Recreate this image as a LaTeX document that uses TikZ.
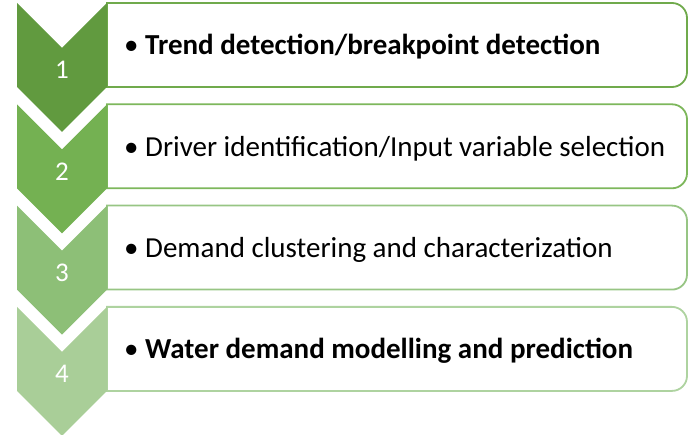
\documentclass[tikz,border=0pt]{standalone}
\usepackage{fontspec}
\setmainfont{Carlito}
\definecolor{cA}{HTML}{619A3F}
\definecolor{cB}{HTML}{74B152}
\definecolor{cC}{HTML}{8DBF77}
\definecolor{cD}{HTML}{A9CE98}
\definecolor{bA}{HTML}{70AA4C}
\definecolor{bB}{HTML}{7DB75B}
\definecolor{bC}{HTML}{97C584}
\definecolor{bD}{HTML}{AED3A0}
\begin{document}
\begin{tikzpicture}[x=1pt,y=-1pt,
  boxline/.style={draw=#1,line width=1.8pt,fill=white},
  numlabel/.style={text=white,font=\fontsize{27}{30}\selectfont},
  itemtext/.style={anchor=west,inner sep=0pt,font=\fontsize{29}{32}\selectfont}]
\useasboundingbox (0,0) rectangle (690,435);
\foreach \i/\fc/\bc/\txt in {
  0/cA/bA/{\textbullet\ \textbf{Trend detection/breakpoint detection}},
  1/cB/bB/{\textbullet\ Driver identification/Input variable selection},
  2/cC/bC/{\textbullet\ Demand clustering and characterization},
  3/cD/bD/{\textbullet\ \textbf{Water demand modelling and prediction}}}{
  \pgfmathsetmacro{\yt}{3+101.3*\i}
  \pgfmathsetmacro{\yb}{\yt+84}
  \pgfmathsetmacro{\ym}{\yt+44}
  % box with rounded right corners
  \draw[boxline=\bc] (107,\yt) -- (672,\yt) arc[start angle=-90,end angle=0,radius=15]
     -- (687,\yb-15) arc[start angle=0,end angle=90,radius=15] -- (107,\yb) -- cycle;
  % chevron
  \fill[\fc] (17,\yt) -- (62,\yt+45) -- (107,\yt) -- (107,\yb) -- (62,\yb+45) -- (17,\yb) -- cycle;
  \node[numlabel] (n\i) at (62,\yt+67) {\the\numexpr\i+1\relax};
  \node[itemtext] (t\i) at (124,\ym) {\txt};
}
\end{tikzpicture}
\end{document}
